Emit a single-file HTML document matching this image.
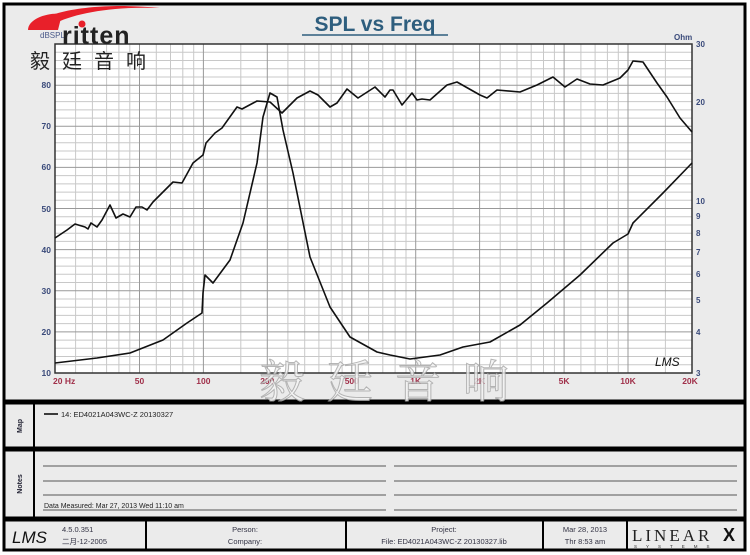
<!DOCTYPE html>
<html><head><meta charset="utf-8"><style>
html,body{margin:0;padding:0;background:#fff;}
svg{display:block;font-family:"Liberation Sans","Noto Sans CJK SC",sans-serif;}
</style></head><body>
<svg width="750" height="555" viewBox="0 0 750 555" xmlns="http://www.w3.org/2000/svg">
<rect x="0" y="0" width="750" height="555" fill="#fff"/>
<rect x="4" y="4" width="741" height="397" fill="#ebebeb" stroke="#000" stroke-width="3"/>
<rect x="55" y="44" width="637" height="329" fill="#fff"/>
<g stroke="#c8c8c8" stroke-width="1">
<line x1="55" x2="692" y1="364.8" y2="364.8"/><line x1="55" x2="692" y1="356.5" y2="356.5"/><line x1="55" x2="692" y1="348.3" y2="348.3"/><line x1="55" x2="692" y1="340.1" y2="340.1"/>
<line x1="55" x2="692" y1="323.6" y2="323.6"/><line x1="55" x2="692" y1="315.4" y2="315.4"/><line x1="55" x2="692" y1="307.2" y2="307.2"/><line x1="55" x2="692" y1="299" y2="299"/>
<line x1="55" x2="692" y1="282.5" y2="282.5"/><line x1="55" x2="692" y1="274.3" y2="274.3"/><line x1="55" x2="692" y1="266.1" y2="266.1"/><line x1="55" x2="692" y1="257.9" y2="257.9"/>
<line x1="55" x2="692" y1="241.4" y2="241.4"/><line x1="55" x2="692" y1="233.2" y2="233.2"/><line x1="55" x2="692" y1="225" y2="225"/><line x1="55" x2="692" y1="216.8" y2="216.8"/>
<line x1="55" x2="692" y1="200.3" y2="200.3"/><line x1="55" x2="692" y1="192.1" y2="192.1"/><line x1="55" x2="692" y1="183.9" y2="183.9"/><line x1="55" x2="692" y1="175.6" y2="175.6"/>
<line x1="55" x2="692" y1="159.2" y2="159.2"/><line x1="55" x2="692" y1="151" y2="151"/><line x1="55" x2="692" y1="142.8" y2="142.8"/><line x1="55" x2="692" y1="134.5" y2="134.5"/>
<line x1="55" x2="692" y1="118.1" y2="118.1"/><line x1="55" x2="692" y1="109.9" y2="109.9"/><line x1="55" x2="692" y1="101.6" y2="101.6"/><line x1="55" x2="692" y1="93.4" y2="93.4"/>
<line x1="55" x2="692" y1="77" y2="77"/><line x1="55" x2="692" y1="68.8" y2="68.8"/><line x1="55" x2="692" y1="60.5" y2="60.5"/><line x1="55" x2="692" y1="52.3" y2="52.3"/>
<line y1="44" y2="373" x1="75.6" x2="75.6"/><line y1="44" y2="373" x1="92.4" x2="92.4"/><line y1="44" y2="373" x1="106.6" x2="106.6"/><line y1="44" y2="373" x1="118.9" x2="118.9"/><line y1="44" y2="373" x1="129.8" x2="129.8"/><line y1="44" y2="373" x1="156.3" x2="156.3"/><line y1="44" y2="373" x1="170.5" x2="170.5"/><line y1="44" y2="373" x1="182.8" x2="182.8"/><line y1="44" y2="373" x1="193.7" x2="193.7"/>
<line y1="44" y2="373" x1="240.8" x2="240.8"/><line y1="44" y2="373" x1="287.9" x2="287.9"/><line y1="44" y2="373" x1="304.7" x2="304.7"/><line y1="44" y2="373" x1="318.9" x2="318.9"/><line y1="44" y2="373" x1="331.2" x2="331.2"/><line y1="44" y2="373" x1="342.1" x2="342.1"/><line y1="44" y2="373" x1="368.6" x2="368.6"/><line y1="44" y2="373" x1="382.8" x2="382.8"/><line y1="44" y2="373" x1="395.1" x2="395.1"/><line y1="44" y2="373" x1="406" x2="406"/>
<line y1="44" y2="373" x1="453.1" x2="453.1"/><line y1="44" y2="373" x1="500.2" x2="500.2"/><line y1="44" y2="373" x1="517" x2="517"/><line y1="44" y2="373" x1="531.2" x2="531.2"/><line y1="44" y2="373" x1="543.5" x2="543.5"/><line y1="44" y2="373" x1="554.4" x2="554.4"/><line y1="44" y2="373" x1="580.9" x2="580.9"/><line y1="44" y2="373" x1="595.1" x2="595.1"/><line y1="44" y2="373" x1="607.4" x2="607.4"/><line y1="44" y2="373" x1="618.3" x2="618.3"/>
<line y1="44" y2="373" x1="665.4" x2="665.4"/>
</g>
<g stroke="#999" stroke-width="1">
<line x1="55" x2="692" y1="331.9" y2="331.9"/><line x1="55" x2="692" y1="290.8" y2="290.8"/><line x1="55" x2="692" y1="249.6" y2="249.6"/><line x1="55" x2="692" y1="208.5" y2="208.5"/><line x1="55" x2="692" y1="167.4" y2="167.4"/><line x1="55" x2="692" y1="126.3" y2="126.3"/><line x1="55" x2="692" y1="85.2" y2="85.2"/>
<line y1="44" y2="373" x1="139.5" x2="139.5"/><line y1="44" y2="373" x1="203.4" x2="203.4"/><line y1="44" y2="373" x1="267.3" x2="267.3"/><line y1="44" y2="373" x1="351.8" x2="351.8"/><line y1="44" y2="373" x1="415.7" x2="415.7"/><line y1="44" y2="373" x1="479.6" x2="479.6"/><line y1="44" y2="373" x1="564.1" x2="564.1"/><line y1="44" y2="373" x1="628" x2="628"/>
</g>
<rect x="55" y="44" width="637" height="329" fill="none" stroke="#333" stroke-width="1.5"/>
<g font-size="8.5" font-weight="bold">
<g fill="#3a4a7a" text-anchor="end">
<text x="51" y="376">10</text><text x="51" y="335">20</text><text x="51" y="294">30</text><text x="51" y="253">40</text><text x="51" y="212">50</text><text x="51" y="170">60</text><text x="51" y="129">70</text><text x="51" y="88">80</text>
</g>
<g fill="#a0304a" text-anchor="middle">
<text x="53" y="384" text-anchor="start">20  Hz</text><text x="139.5" y="384">50</text><text x="203.4" y="384">100</text><text x="267.3" y="384">200</text><text x="351.8" y="384">500</text><text x="415.7" y="384">1K</text><text x="479.6" y="384">2K</text><text x="564.1" y="384">5K</text><text x="628" y="384">10K</text><text x="690" y="384">20K</text>
</g>
<g fill="#3a4a7a" font-size="8">
<text x="696" y="47">30</text><text x="696" y="105">20</text><text x="696" y="204">10</text><text x="696" y="219">9</text><text x="696" y="236">8</text><text x="696" y="255">7</text><text x="696" y="277">6</text><text x="696" y="303">5</text><text x="696" y="335">4</text><text x="696" y="376">3</text>
</g>
</g>
<text x="375" y="31" text-anchor="middle" font-size="21" font-weight="bold" fill="#2e5e7e">SPL vs Freq</text>
<line x1="302" y1="35" x2="448" y2="35" stroke="#2e5e7e" stroke-width="1.5"/>
<text x="40" y="38" font-size="8" fill="#4a5a8a">dBSPL</text>
<text x="674" y="40" font-size="8" font-weight="bold" fill="#3a4a7a">Ohm</text>
<path d="M30,30 C40,10 100,2 160,8 C110,6 70,14 50,26 Z" fill="#e8202a"/>
<path d="M28,30 C28,18 50,12 62,14 L58,30 Z" fill="#e8202a"/>
<text x="62" y="44" font-size="25" font-weight="bold" fill="#222" letter-spacing="1">ritten</text>
<circle cx="82" cy="24" r="3.5" fill="#e8202a"/>
<text x="30" y="68" font-size="20" fill="#222" letter-spacing="12">毅廷音响</text>
<text x="655" y="366" font-size="12" font-style="italic" fill="#111">LMS</text>
<text x="395" y="398" text-anchor="middle" font-size="46" fill="#f4f4f4" stroke="#aaa" stroke-width="1" letter-spacing="22" font-family="'Noto Serif CJK SC',serif" opacity="0.85">毅廷音响</text>
<polyline fill="none" stroke="#111" stroke-width="1.6" stroke-linejoin="round" points="55,238 67,230 75,224 85,227 88,229 91,223 97,227 102,220 110,205 116,218 123,214 130,217 136,207 142,207 147,210 153,202 173,182 182,183 193,163 203,155 206,143 215,133 222,128 237,107 242,109 257,101 270,102 282,113 297,98 310,91 318,95 330,107 337,103 347,89 358,98 375,87 385,97 390,90 393,90 402,105 412,93 417,100 422,99 430,100 447,85 457,82 480,95 487,98 497,90 520,92 537,85 553,77 565,87 577,79 590,84 603,85 620,78 628,70 633,61 643,62 657,83 667,97 680,118 692,132"/>
<polyline fill="none" stroke="#111" stroke-width="1.6" stroke-linejoin="round" points="55,363 97,358 130,353 163,340 187,323 202,313 203,293 205,275 213,283 230,260 243,223 257,163 263,117 270,93 277,97 283,130 293,173 310,257 330,307 350,337 377,352 390,355 410,359 440,355 463,347 490,342 520,325 547,303 580,275 613,243 628,234 633,223 663,193 692,163"/>
<rect x="4" y="403" width="741" height="45" fill="#ebebeb" stroke="#000" stroke-width="3"/>
<line x1="34" y1="403" x2="34" y2="448" stroke="#000" stroke-width="2"/>
<text transform="translate(22,426) rotate(-90)" text-anchor="middle" font-size="7" font-weight="bold" fill="#223">Map</text>
<line x1="44" y1="414" x2="58" y2="414" stroke="#000" stroke-width="1.5"/>
<text x="61" y="417" font-size="7.5" fill="#222">14: ED4021A043WC-Z 20130327</text>
<rect x="4" y="450" width="741" height="68" fill="#ebebeb" stroke="#000" stroke-width="3"/>
<line x1="34" y1="450" x2="34" y2="518" stroke="#000" stroke-width="2"/>
<text transform="translate(22,484) rotate(-90)" text-anchor="middle" font-size="7" font-weight="bold" fill="#223">Notes</text>
<g stroke="#555" stroke-width="1">
<line x1="43" y1="466" x2="386" y2="466"/><line x1="394" y1="466" x2="737" y2="466"/>
<line x1="43" y1="481" x2="386" y2="481"/><line x1="394" y1="481" x2="737" y2="481"/>
<line x1="43" y1="495" x2="386" y2="495"/><line x1="394" y1="495" x2="737" y2="495"/>
<line x1="43" y1="510" x2="386" y2="510"/><line x1="394" y1="510" x2="737" y2="510"/>
</g>
<text x="44" y="508" font-size="7" fill="#222">Data Measured: Mar 27, 2013  Wed 11:10 am</text>
<rect x="4" y="520" width="741" height="30" fill="#ebebeb" stroke="#000" stroke-width="3"/>
<g stroke="#000" stroke-width="2"><line x1="146" y1="520" x2="146" y2="550"/><line x1="346" y1="520" x2="346" y2="550"/><line x1="543" y1="520" x2="543" y2="550"/><line x1="627" y1="520" x2="627" y2="550"/></g>
<text x="12" y="543" font-size="17" font-style="italic" fill="#111">LMS</text>
<g font-size="7.5" fill="#334">
<text x="62" y="532">4.5.0.351</text><text x="62" y="544">二月-12-2005</text>
<text x="245" y="532" text-anchor="middle">Person:</text><text x="245" y="544" text-anchor="middle">Company:</text>
<text x="444" y="532" text-anchor="middle">Project:</text><text x="444" y="544" text-anchor="middle">File: ED4021A043WC-Z  20130327.lib</text>
<text x="585" y="532" text-anchor="middle">Mar 28, 2013</text><text x="585" y="544" text-anchor="middle">Thr  8:53 am</text>
</g>
<text x="632" y="541" font-size="17" fill="#222" font-family="'Liberation Serif',serif" letter-spacing="3">LINEAR</text><text x="723" y="541" font-size="18" font-weight="bold" fill="#111">X</text>
<text x="634" y="548" font-size="4.5" fill="#333" letter-spacing="9">SYSTEMS</text>
</svg>
</body></html>
